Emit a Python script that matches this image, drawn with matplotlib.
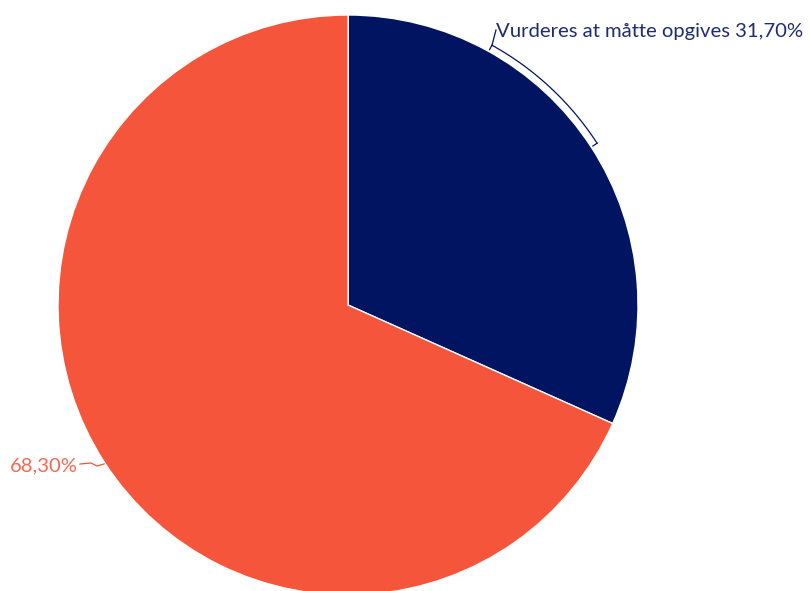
import numpy as np
import matplotlib.pyplot as plt

labels = ['Vurderes at måtte opgives', '']
values = [31.70, 68.30]
colors = ['#001462', '#F5553A']

W, H = 810, 591
cx, cy, R = 348, H - 305, 290

fig = plt.figure(figsize=(W / 100, H / 100), dpi=100)
ax = fig.add_axes([0, 0, 1, 1])

ax.pie(values, colors=colors, startangle=90, counterclock=False,
       center=(cx, cy), radius=R, frame=True,
       wedgeprops=dict(edgecolor='white', linewidth=1))
ax.set_xlim(0, W)
ax.set_ylim(0, H)
ax.set_aspect('equal')
ax.axis('off')

# bracket connector for the navy slice
th = np.radians(np.linspace(33, 61, 60))
r_out = R + 7
xs = cx + r_out * np.cos(th)
ys = cy + r_out * np.sin(th)
ax.plot(xs, ys, color=colors[0], lw=0.9)
for a in (33, 61):
    t = np.radians(a)
    ax.plot([cx + (R + 2) * np.cos(t), cx + r_out * np.cos(t)],
            [cy + (R + 2) * np.sin(t), cy + r_out * np.sin(t)],
            color=colors[0], lw=0.9)
t = np.radians(61)
ax.plot([cx + r_out * np.cos(t), cx + r_out * np.cos(t) + 4],
        [cy + r_out * np.sin(t), H - 30], color=colors[0], lw=0.9)

ax.text(496, H - 31, f"{labels[0]} {values[0]:.2f}".replace('.', ',') + '%',
        color='#1F2C74', fontsize=14.6, family='Lato', ha='left', va='center')

# connector for the orange slice
ax.plot([80, 91, 97, 104], [H - 464, H - 463, H - 466, H - 464],
        color=colors[1], lw=0.9)
ax.text(78, H - 466, f"{values[1]:.2f}".replace('.', ',') + '%',
        color='#F26A52', fontsize=14.6, family='Lato', ha='right', va='center')

fig.savefig('out.png', dpi=100)
